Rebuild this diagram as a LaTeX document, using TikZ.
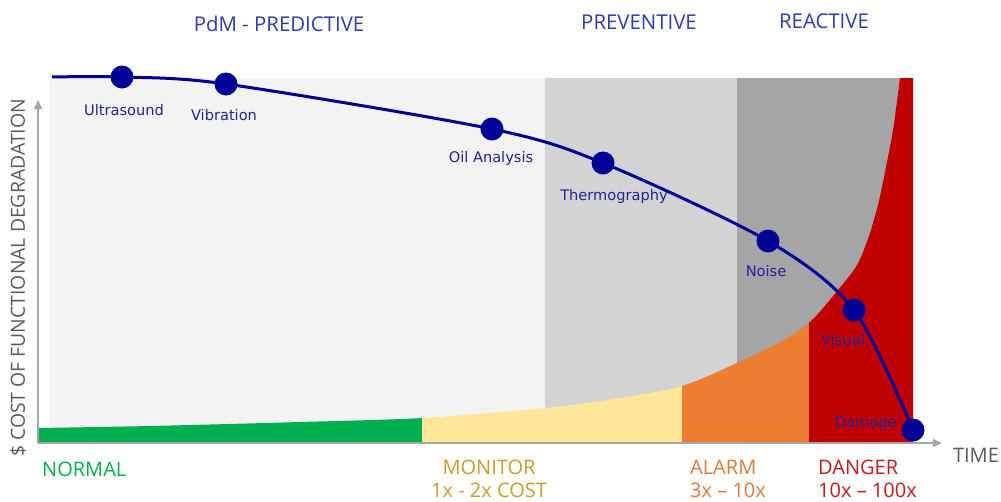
\documentclass[tikz,border=0pt]{standalone}
\usepackage{fontspec}
\setmainfont{Open Sans}
\newfontfamily\lblfont{DejaVu Sans}
\usetikzlibrary{arrows.meta}

\definecolor{navy}{RGB}{0,0,150}
\definecolor{lbltext}{RGB}{35,35,150}
\definecolor{hdtext}{RGB}{45,60,175}
\definecolor{grayA}{RGB}{243,243,243}
\definecolor{grayB}{RGB}{211,211,211}
\definecolor{grayC}{RGB}{165,165,165}
\definecolor{bandgreen}{RGB}{0,176,80}
\definecolor{bandyellow}{RGB}{255,230,153}
\definecolor{bandorange}{RGB}{237,125,49}
\definecolor{bandred}{RGB}{192,0,0}
\definecolor{txtgold}{RGB}{200,158,40}
\definecolor{txtorange}{RGB}{224,122,56}
\definecolor{txtred}{RGB}{200,25,25}
\definecolor{axisgray}{RGB}{166,166,166}
\definecolor{txtgray}{RGB}{90,90,90}

\tikzset{
  dot/.style={circle, fill=navy, inner sep=0pt, minimum size=23pt},
  method/.style={font=\lblfont\fontsize{14.6}{16}\selectfont, text=lbltext, inner sep=0pt},
  phase/.style={font=\fontsize{20.4}{24}\selectfont, text=hdtext, inner sep=0pt},
  level/.style={font=\fontsize{20}{23}\selectfont, inner sep=0pt},
  axisline/.style={draw=axisgray, line width=2pt, -{Triangle[length=9pt,width=8pt]}}
}

\begin{document}
\begin{tikzpicture}[x=1pt,y=-1pt]
  \useasboundingbox (0,0) rectangle (1001,501);

  % phases in the back
  \fill[grayA] (50,78) rectangle (545,443);
  \fill[grayB] (545,78) rectangle (737,443);
  \fill[grayC] (737,78) rectangle (913,443);

  % cost bands under the curve
  \foreach \xa/\xb/\col in {38/422/bandgreen, 422/682/bandyellow,
                             682/809/bandorange, 809/913/bandred} {
    \begin{scope}
      \clip (\xa,70) rectangle (\xb,443);
      \fill[\col] (38,443) -- plot[smooth] coordinates {(38,428) (150,426) (300,422)
        (422,418) (545,408) (620,398) (682,386) (737,363) (780,342) (810,322)
        (838,290) (857,265) (869,236) (878,205) (885,172) (893,130) (900,78)}
        -- (913,78) -- (913,443) -- cycle;
    \end{scope}
  }

  % axes
  \coordinate (origin) at (38,443);
  \coordinate (xend) at (942,443);
  \coordinate (yend) at (38,100);
  \draw[axisline] (origin) -- (xend);
  \draw[axisline] (origin) -- (yend);

  % methods along the curve
  \coordinate (start) at (52,77);
  \node[dot] (ultra)  at (122,77)  {};
  \node[dot] (vib)    at (226,84)  {};
  \node[dot] (oil)    at (492,129) {};
  \node[dot] (thermo) at (603,163) {};
  \node[dot] (noise)  at (768,241) {};
  \node[dot] (visual) at (854,310) {};
  \node[dot] (damage) at (913,430) {};

  \draw[navy, line width=3pt] plot[smooth, tension=0.5] coordinates {(start) (ultra.center)
    (vib.center) (oil.center) (thermo.center) (noise.center) (visual.center) (damage.center)};

  \node[method] (ultralbl)  at (124,110) {Ultrasound};
  \node[method] (viblbl)    at (224,115) {Vibration};
  \node[method] (oillbl)    at (491,158) {Oil Analysis};
  \node[method] (thermolbl) at (614,196) {Thermography};
  \node[method] (noiselbl)  at (766,271) {Noise};
  \node[method] (visuallbl) at (843,340) {Visual};
  \node[method] (damagelbl) at (866,424) {Damage};

  % headings
  \node[phase] (pdm)      at (279,24) {PdM - PREDICTIVE};
  \node[phase] (prevent)  at (639,22) {PREVENTIVE};
  \node[phase] (react)    at (824,21) {REACTIVE};

  \node[level, text=bandgreen, anchor=west] (normal) at (42,469) {NORMAL};
  \node[level, text=txtgold, align=center] (monitor) at (489,479) {MONITOR\\1x - 2x COST};
  \node[level, text=txtorange, align=left, anchor=west] (alarm) at (690,479) {ALARM\\3x – 10x};
  \node[level, text=txtred, align=left, anchor=west] (danger) at (818,479) {DANGER\\10x – 100x};

  \node[level, text=txtgray] (time) at (976,455) {TIME};
  \node[level, text=txtgray, rotate=90, font=\fontsize{19.4}{22}\selectfont] (ylbl) at (18,278)
    {\$ COST OF FUNCTIONAL DEGRADATION};
\end{tikzpicture}
\end{document}
